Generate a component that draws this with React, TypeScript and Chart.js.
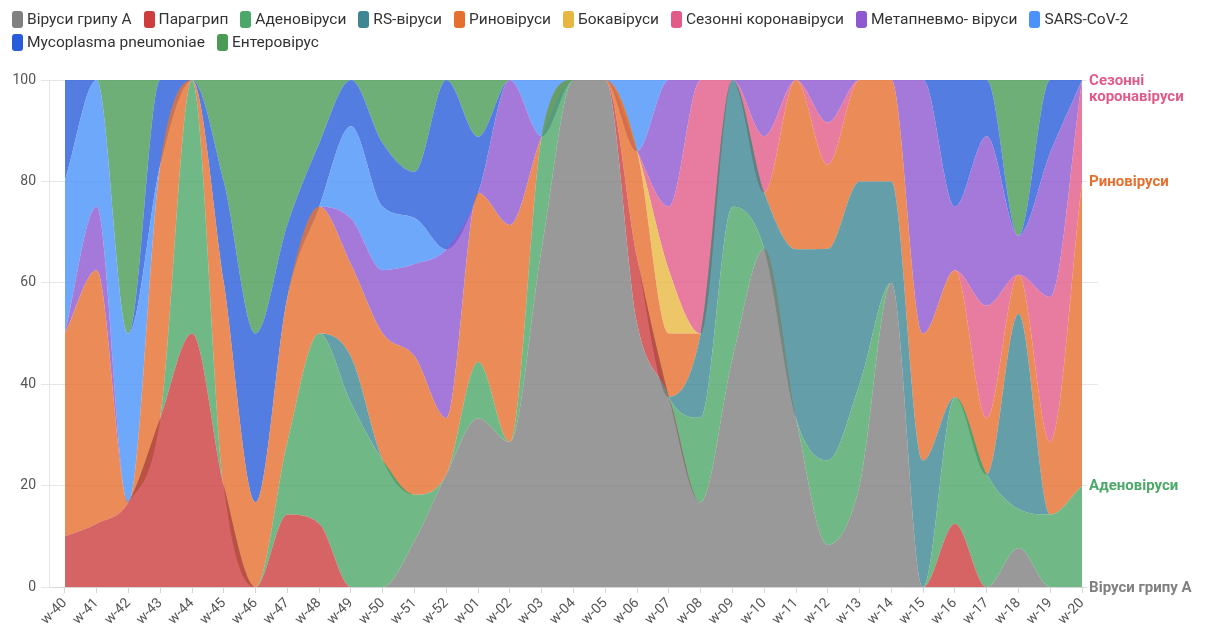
import React, { useEffect, useRef } from 'react';
import { Chart, registerables } from 'chart.js';

Chart.register(...registerables);

const weeks = [
  'w-40', 'w-41', 'w-42', 'w-43', 'w-44', 'w-45', 'w-46', 'w-47', 'w-48', 'w-49', 'w-50', 'w-51', 'w-52',
  'w-01', 'w-02', 'w-03', 'w-04', 'w-05', 'w-06', 'w-07', 'w-08', 'w-09', 'w-10', 'w-11', 'w-12', 'w-13',
  'w-14', 'w-15', 'w-16', 'w-17', 'w-18', 'w-19', 'w-20',
];

const seriesNames = [
  'Віруси грипу А', 'Парагрип', 'Аденовіруси', 'RS-віруси', 'Риновіруси', 'Бокавіруси',
  'Сезонні коронавіруси', 'Метапневмо- віруси', 'SARS-CoV-2', 'Mycoplasma pneumoniae', 'Ентеровірус',
];

const seriesColors = [
  '#808080', '#cd3d3d', '#4ca869', '#3d8692', '#e66f2e', '#e7b841',
  '#e25b88', '#8d58d0', '#4a92f9', '#285cda', '#4a9b56',
];

// values in % of positive samples, per week
const fluA = [0, 0, 0, 0, 0, 0, 0, 0, 0, 0, 0, 9.1, 22.2, 33.3, 28.6, 66.7, 100, 100, 52, 37.5, 16.7, 45, 66.7, 33.3, 8.3, 20, 60, 0, 0, 0, 7.7, 0, 0];
const paraflu = [10, 12.5, 16.7, 33.3, 50, 20, 0, 14.3, 12.5, 0, 0, 0, 0, 0, 0, 0, 0, 0, 13, 0, 0, 0, 0, 0, 0, 0, 0, 0, 12.5, 0, 0, 0, 0];
const adeno = [0, 0, 0, 0, 50, 0, 0, 14.3, 37.5, 36.3, 25, 9.1, 0, 11.1, 0, 22.2, 0, 0, 0, 0, 16.7, 30, 0, 0, 16.7, 20, 0, 0, 25, 22.2, 7.7, 14.3, 20];
const rsv = [0, 0, 0, 0, 0, 0, 0, 0, 0, 9.1, 0, 0, 0, 0, 0, 0, 0, 0, 0, 0, 16.6, 25, 11.1, 33.3, 41.7, 40, 20, 25, 0, 0, 38.5, 0, 0];
const rhino = [40, 50, 0, 50, 0, 40, 16.7, 28.6, 25, 18.2, 25, 27.3, 11.1, 33.3, 42.8, 0, 0, 0, 21, 12.5, 0, 0, 0, 33.4, 16.6, 20, 20, 25, 25, 11.1, 7.7, 14.3, 60];
const boca = [0, 0, 0, 0, 0, 0, 0, 0, 0, 0, 0, 0, 0, 0, 0, 0, 0, 0, 0, 12.5, 0, 0, 0, 0, 0, 0, 0, 0, 0, 0, 0, 0, 0];
const corona = [0, 0, 0, 0, 0, 0, 0, 0, 0, 0, 0, 0, 0, 0, 0, 0, 0, 0, 0, 12.5, 50, 0, 11.1, 0, 8.3, 0, 0, 0, 0, 22.2, 0, 28.6, 20];
const metapneumo = [0, 12.5, 0, 0, 0, 0, 0, 0, 0, 9.1, 12.5, 18.2, 33.3, 0, 28.6, 0, 0, 0, 0, 25, 0, 0, 11.1, 0, 8.4, 0, 0, 50, 12.5, 33.4, 7.7, 28.5, 0];
const sarsCov2 = [30, 25, 33.3, 0, 0, 0, 0, 0, 0, 18.2, 12.5, 9.1, 0, 0, 0, 11.1, 0, 0, 14, 0, 0, 0, 0, 0, 0, 0, 0, 0, 0, 0, 0, 0, 0];
const mycoplasma = [20, 0, 0, 16.7, 0, 20, 33.3, 14.3, 12.5, 9.1, 12.5, 9.1, 33.4, 11.1, 0, 0, 0, 0, 0, 0, 0, 0, 0, 0, 0, 0, 0, 0, 25, 11.1, 0, 14.3, 0];
const entero = [0, 0, 50, 0, 0, 20, 50, 28.5, 12.5, 0, 12.5, 18.1, 0, 11.2, 0, 0, 0, 0, 0, 0, 0, 0, 0, 0, 0, 0, 0, 0, 0, 0, 30.7, 0, 0];

const seriesData = [fluA, paraflu, adeno, rsv, rhino, boca, corona, metapneumo, sarsCov2, mycoplasma, entero];

const rightLabels = [
  { series: 'Віруси грипу А', lines: ['Віруси грипу А'] },
  { series: 'Аденовіруси', lines: ['Аденовіруси'] },
  { series: 'Риновіруси', lines: ['Риновіруси'] },
  { series: 'Сезонні коронавіруси', lines: ['Сезонні', 'коронавіруси'] },
];

function withAlpha(hex: string, a: number) {
  const r = parseInt(hex.slice(1, 3), 16);
  const g = parseInt(hex.slice(3, 5), 16);
  const b = parseInt(hex.slice(5, 7), 16);
  return `rgba(${r},${g},${b},${a})`;
}

const rightLabelPlugin = {
  id: 'rightLabels',
  afterDatasetsDraw(chart: any) {
    const ctx = chart.ctx;
    ctx.save();
    ctx.font = 'bold 15px Roboto';
    ctx.textBaseline = 'middle';
    ctx.textAlign = 'left';
    rightLabels.forEach(({ series, lines }) => {
      const idx = seriesNames.indexOf(series);
      const meta = chart.getDatasetMeta(idx);
      const pt = meta.data[meta.data.length - 1];
      const x = pt.x + 7;
      lines.forEach((line, li) => {
        const y = pt.y + 1 + li * 16;
        const w = ctx.measureText(line).width;
        ctx.fillStyle = '#ffffff';
        ctx.fillRect(x - 2, y - 9, w + 4, 18);
        ctx.fillStyle = seriesColors[idx];
        ctx.fillText(line, x, y);
      });
    });
    ctx.restore();
  },
};

export default function App() {
  const canvasRef = useRef<HTMLCanvasElement | null>(null);

  useEffect(() => {
    document.body.style.margin = '0';
    Chart.defaults.font.family = 'Roboto, sans-serif';
    const canvas = canvasRef.current;
    if (!canvas) return;
    const chart = new Chart(canvas, {
      type: 'line',
      data: {
        labels: weeks,
        datasets: seriesNames.map((name, i) => ({
          label: name,
          data: seriesData[i],
          backgroundColor: withAlpha(seriesColors[i], 0.8),
          borderColor: 'rgba(0,0,0,0)',
          borderWidth: 0,
          pointRadius: 0,
          pointHoverRadius: 0,
          fill: i === 0 ? 'origin' : '-1',
          cubicInterpolationMode: 'monotone',
        })),
      },
      options: {
        responsive: false,
        animation: false,
        events: [],
        layout: { padding: { top: 80, right: 113, bottom: 0, left: 0 } },
        plugins: {
          legend: { display: false },
          tooltip: { enabled: false },
        },
        scales: {
          x: {
            type: 'category',
            offset: true,
            grid: { display: true, drawOnChartArea: false, drawTicks: true, tickLength: 6, color: '#d6d6d6' },
            border: { display: true, color: '#d6d6d6' },
            ticks: {
              minRotation: 45,
              maxRotation: 45,
              autoSkip: false,
              color: '#555555',
              font: { size: 14 },
              padding: 2,
            },
            afterFit: (s: any) => { s.height = 43; },
          },
          y: {
            stacked: true,
            min: 0,
            max: 100,
            ticks: { stepSize: 20, color: '#555555', font: { size: 14 }, padding: 5 },
            grid: { color: '#e6e6e6', tickLength: 8 },
            border: { display: true, color: '#e6e6e6' },
            afterFit: (s: any) => { s.width = 49; },
          },
        },
      },
      plugins: [rightLabelPlugin],
    } as any);
    return () => chart.destroy();
  }, []);

  return (
    <div style={{ position: 'relative', width: 1211, height: 630, fontFamily: 'Roboto, sans-serif' }}>
      <canvas ref={canvasRef} width={1211} height={630} style={{ position: 'absolute', left: 0, top: 0 }} />
      <div
        style={{
          position: 'absolute',
          left: 12,
          top: 8,
          width: 1195,
          display: 'flex',
          flexWrap: 'wrap',
          fontSize: 15.5,
          lineHeight: '23px',
          color: '#333333',
        }}
      >
        {seriesNames.map((name, i) => (
          <span key={name} style={{ display: 'inline-flex', alignItems: 'center', marginRight: 12, whiteSpace: 'nowrap' }}>
            <span
              style={{
                display: 'inline-block',
                width: 11,
                height: 17,
                borderRadius: 3,
                background: seriesColors[i],
                marginRight: 4,
              }}
            />
            {name}
          </span>
        ))}
      </div>
    </div>
  );
}
